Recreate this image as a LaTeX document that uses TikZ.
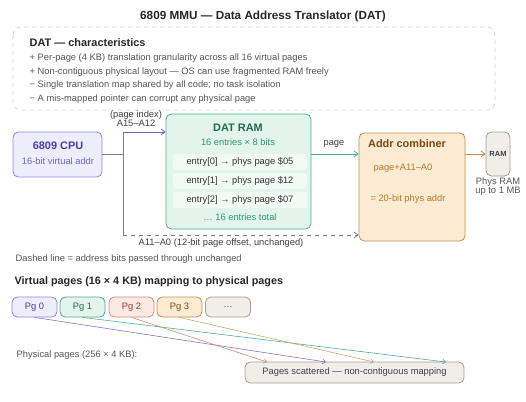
\documentclass[tikz,border=0pt]{standalone}
\usepackage{fontspec}
\setmainfont{Liberation Sans}
\usetikzlibrary{arrows.meta}
\definecolor{cpuline}{HTML}{8E84E4}
\definecolor{cpufill}{HTML}{EEEDFC}
\definecolor{cputext}{HTML}{4A3DA6}
\definecolor{datline}{HTML}{4FAE8B}
\definecolor{datfill}{HTML}{E3F4EC}
\definecolor{dattext}{HTML}{1F6B50}
\definecolor{datsub}{HTML}{2E9670}
\definecolor{entfill}{HTML}{F2FAF6}
\definecolor{cmbline}{HTML}{C3904F}
\definecolor{cmbfill}{HTML}{FCEBD3}
\definecolor{cmbtext}{HTML}{7A4914}
\definecolor{cmbsub}{HTML}{B5782A}
\definecolor{ramline}{HTML}{A29E96}
\definecolor{ramfill}{HTML}{F0EEE9}
\definecolor{pgline}{HTML}{D8897A}
\definecolor{pgfill}{HTML}{FBE9E4}
\definecolor{pgtext}{HTML}{9A3B2A}
\definecolor{txtgray}{HTML}{555555}
\definecolor{dashgray}{HTML}{CFCFCF}
\tikzset{
  box/.style={draw, rounded corners=4pt, line width=0.6pt, inner sep=0pt},
  small/.style={font=\fontsize{7}{8}\selectfont},
  bold/.style={font=\fontsize{8.2}{10}\selectfont\bfseries},
  link/.style={line width=0.6pt, -{Straight Barb[length=3pt,width=4.5pt]}},
  map/.style={line width=0.45pt, -{Straight Barb[length=2.2pt,width=3.5pt]}}
}
\begin{document}
\begin{tikzpicture}[x=0.75pt,y=-0.75pt]
\useasboundingbox (0,0) rectangle (526,401);
\node[font=\fontsize{8.8}{10}\selectfont\bfseries, text=black!85] (title) at (263,16) {6809 MMU --- Data Address Translator (DAT)};
\draw[dashgray, dashed, rounded corners=6pt, line width=0.5pt] (13,27) rectangle (495,110);
\node[bold, anchor=west, text=black!85] (chead) at (25,43) {DAT --- characteristics};
\node[small, anchor=west, text=txtgray] (c1) at (25,58) {+ Per-page (4 KB) translation granularity across all 16 virtual pages};
\node[small, anchor=west, text=txtgray] (c2) at (25,72) {+ Non-contiguous physical layout --- OS can use fragmented RAM freely};
\node[small, anchor=west, text=txtgray] (c3) at (25,85) {− Single translation map shared by all code; no task isolation};
\node[small, anchor=west, text=txtgray] (c4) at (25,99) {− A mis-mapped pointer can corrupt any physical page};

\node[box, draw=cpuline, fill=cpufill, minimum width=66.75pt, minimum height=33.75pt] (cpu) at (57.5,154.5) {};
\node[bold, text=cputext] (cpuname) at (58,146) {6809 CPU};
\node[small, text=cputext!80] (cpusub) at (58,161) {16-bit virtual addr};

\node[box, draw=datline, fill=datfill, minimum width=108.75pt, minimum height=86.25pt] (dat) at (238.5,171.5) {};
\node[bold, text=dattext] (datname) at (238,128) {DAT RAM};
\node[small, text=datsub] (datsub) at (238,142) {16 entries × 8 bits};
\node[box, draw=none, fill=entfill, rounded corners=2pt, minimum width=100.5pt, minimum height=12pt, small, text=black!80] (e0) at (240,162) {entry[0] → phys page \$05};
\node[box, draw=none, fill=entfill, rounded corners=2pt, minimum width=100.5pt, minimum height=12pt, small, text=black!80] (e1) at (240,181) {entry[1] → phys page \$12};
\node[box, draw=none, fill=entfill, rounded corners=2pt, minimum width=100.5pt, minimum height=12pt, small, text=black!80] (e2) at (240,200) {entry[2] → phys page \$07};
\node[small, text=datsub] (emore) at (240,217) {… 16 entries total};

\node[box, draw=cmbline, fill=cmbfill, minimum width=79.5pt, minimum height=81pt] (cmb) at (412,187) {};
\node[bold, text=cmbtext] (cmbname) at (407,144) {Addr combiner};
\node[small, text=cmbsub] (cmbl1) at (403,168) {page+A11–A0};
\node[small, text=cmbsub] (cmbl2) at (408,199) {= 20-bit phys addr};

\node[box, draw=ramline, fill=ramfill, minimum width=18pt, minimum height=33pt, font=\fontsize{5.6}{6}\selectfont\bfseries, text=black!75] (ram) at (498,154) {RAM};
\node[small, text=txtgray, align=center] (ramsub) at (498,186.5) {Phys RAM\\[-1.2pt]up to 1 MB};

\coordinate (jt) at (123,132);
\coordinate (jb) at (123,235);
\draw[gray, line width=0.6pt] (cpu.east |- 0,154) -- (jt |- 0,154);
\draw[gray, line width=0.6pt] (jt) -- (jb);
\draw[link, cputext!80] (jt) -- (jt -| dat.west);
\draw[link, gray, dashed] (jb) -- (jb -| cmb.west);
\draw[link, datline] (dat.east |- 0,154) -- (cmb.west |- 0,154);
\draw[link, cmbline] (cmb.east |- ram.west) -- (ram.west);
\node[small, text=black!75, align=center] (pidx) at (136,118.5) {(page index)\\[-1.2pt]A15–A12};
\node[small, text=black!75] (pglbl) at (334,144) {page};
\node[small, text=black!75] (offlbl) at (221,243) {A11–A0 (12-bit page offset, unchanged)};
\node[small, anchor=west, text=txtgray] (dashnote) at (11,259) {Dashed line = address bits passed through unchanged};

\node[font=\fontsize{8.1}{9}\selectfont\bfseries, anchor=west, text=black!85] (vhead) at (10,282) {Virtual pages (16 × 4 KB) mapping to physical pages};
\node[box, draw=cpuline, fill=cpufill, minimum width=33.75pt, minimum height=15pt, small, text=cputext] (pg0) at (34.5,307) {Pg 0};
\node[box, draw=datline, fill=datfill, minimum width=33.75pt, minimum height=15pt, small, text=dattext] (pg1) at (82.5,307) {Pg 1};
\node[box, draw=pgline, fill=pgfill, minimum width=33.75pt, minimum height=15pt, small, text=pgtext] (pg2) at (131.5,307) {Pg 2};
\node[box, draw=cmbline, fill=cmbfill, minimum width=33.75pt, minimum height=15pt, small, text=cmbtext] (pg3) at (179.5,307) {Pg 3};
\node[box, draw=ramline, fill=ramfill, minimum width=33.75pt, minimum height=15pt, small, text=txtgray] (pgx) at (228,307) {…};
\node[small, anchor=west, text=txtgray] (physlbl) at (12,355) {Physical pages (256 × 4 KB):};
\node[box, draw=ramline, fill=ramfill, minimum width=164.25pt, minimum height=15.75pt, small, text=black!75] (scat) at (354.5,372.5) {Pages scattered --- non-contiguous mapping};
\coordinate (t0) at (326,362);
\coordinate (t1) at (446,362);
\coordinate (t2) at (267,362);
\coordinate (t3) at (374,362);
\draw[map, cpuline!90!black] (pg0.south) -- (t0);
\draw[map, datline] (pg1.south) -- (t1);
\draw[map, pgline] (pg2.south) -- (t2);
\draw[map, cmbline!80] (pg3.south) -- (t3);
\end{tikzpicture}
\end{document}
